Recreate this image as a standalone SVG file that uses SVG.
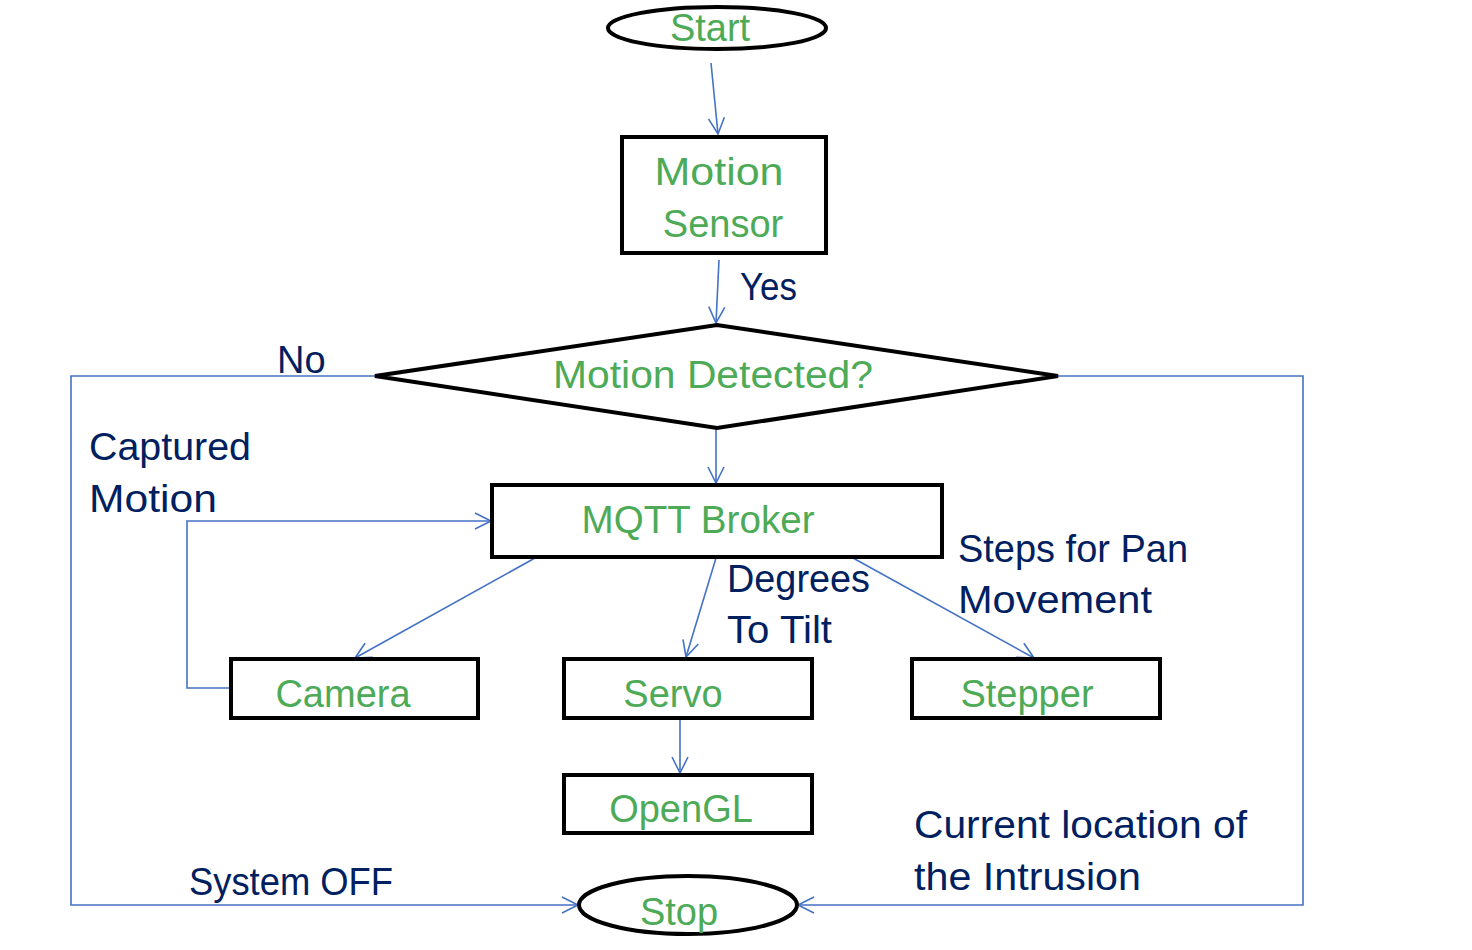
<svg xmlns="http://www.w3.org/2000/svg" width="1472" height="950" viewBox="0 0 1472 950">
<defs>
<marker id="arr" viewBox="0 0 20 20" refX="18" refY="10" markerWidth="20" markerHeight="20" markerUnits="userSpaceOnUse" orient="auto">
<path d="M2,2 L18,10 L2,18" fill="none" stroke="#4472C4" stroke-width="1.6"/>
</marker>
<style>
.shape{fill:#fff;stroke:#000;stroke-width:4}
.con{fill:none;stroke:#4472C4;stroke-width:1.6}
.nt{font-family:"Liberation Sans",Arial,sans-serif;font-size:38px;fill:#4DAA57;text-anchor:middle}
.lb{font-family:"Liberation Sans",Arial,sans-serif;font-size:38px;fill:#002060}
</style>
</defs>
<rect width="1472" height="950" fill="#fff"/>
<g id="connectors">
<path class="con" d="M711,63 L718,134" marker-end="url(#arr)"/>
<path class="con" d="M719,260 L716,323" marker-end="url(#arr)"/>
<path class="con" d="M716,428 L716,483" marker-end="url(#arr)"/>
<path class="con" d="M375,376 L71,376 L71,905 L578,905" marker-end="url(#arr)"/>
<path class="con" d="M1058,376 L1303,376 L1303,905 L798,905" marker-end="url(#arr)"/>
<path class="con" d="M231,688 L187,688 L187,521 L491,521" marker-end="url(#arr)"/>
<path class="con" d="M535,558 L355,658" marker-end="url(#arr)"/>
<path class="con" d="M716,558 L686,657" marker-end="url(#arr)"/>
<path class="con" d="M853,558 L1034,658" marker-end="url(#arr)"/>
<path class="con" d="M680,718 L680,773" marker-end="url(#arr)"/>
</g>
<g id="start">
<ellipse class="shape" cx="717" cy="28" rx="109" ry="21"/>
<text class="nt" x="710" y="41">Start</text>
</g>
<g id="motion-sensor">
<rect class="shape" x="622" y="137" width="204" height="116"/>
<text class="nt" x="719" y="185" textLength="129" lengthAdjust="spacingAndGlyphs">Motion</text>
<text class="nt" x="723" y="237">Sensor</text>
</g>
<g id="decision">
<polygon class="shape" points="375,376 717,325 1058,376 717,428"/>
<text class="nt" x="713" y="388" textLength="320" lengthAdjust="spacingAndGlyphs">Motion Detected?</text>
</g>
<g id="mqtt">
<rect class="shape" x="492" y="485" width="450" height="72"/>
<text class="nt" x="698" y="533" textLength="233" lengthAdjust="spacingAndGlyphs">MQTT Broker</text>
</g>
<g id="camera">
<rect class="shape" x="231" y="659" width="247" height="59"/>
<text class="nt" x="343" y="707">Camera</text>
</g>
<g id="servo">
<rect class="shape" x="564" y="659" width="248" height="59"/>
<text class="nt" x="673" y="707">Servo</text>
</g>
<g id="stepper">
<rect class="shape" x="912" y="659" width="248" height="59"/>
<text class="nt" x="1027" y="707">Stepper</text>
</g>
<g id="opengl">
<rect class="shape" x="564" y="775" width="248" height="58"/>
<text class="nt" x="681" y="822">OpenGL</text>
</g>
<g id="stop">
<ellipse class="shape" cx="688" cy="905" rx="109" ry="29"/>
<text class="nt" x="679" y="925">Stop</text>
</g>
<g id="labels">
<text class="lb" x="740" y="300" textLength="57" lengthAdjust="spacingAndGlyphs">Yes</text>
<text class="lb" x="277" y="373">No</text>
<text class="lb" x="89" y="460" textLength="162" lengthAdjust="spacingAndGlyphs">Captured</text>
<text class="lb" x="89" y="512" textLength="128" lengthAdjust="spacingAndGlyphs">Motion</text>
<text class="lb" x="727" y="592" textLength="143" lengthAdjust="spacingAndGlyphs">Degrees</text>
<text class="lb" x="727" y="643" textLength="105" lengthAdjust="spacingAndGlyphs">To Tilt</text>
<text class="lb" x="958" y="562" textLength="230" lengthAdjust="spacingAndGlyphs">Steps for Pan</text>
<text class="lb" x="958" y="613" textLength="194" lengthAdjust="spacingAndGlyphs">Movement</text>
<text class="lb" x="189" y="895" textLength="204" lengthAdjust="spacingAndGlyphs">System OFF</text>
<text class="lb" x="914" y="838" textLength="333" lengthAdjust="spacingAndGlyphs">Current location of</text>
<text class="lb" x="914" y="890" textLength="227" lengthAdjust="spacingAndGlyphs">the Intrusion</text>
</g>
</svg>
